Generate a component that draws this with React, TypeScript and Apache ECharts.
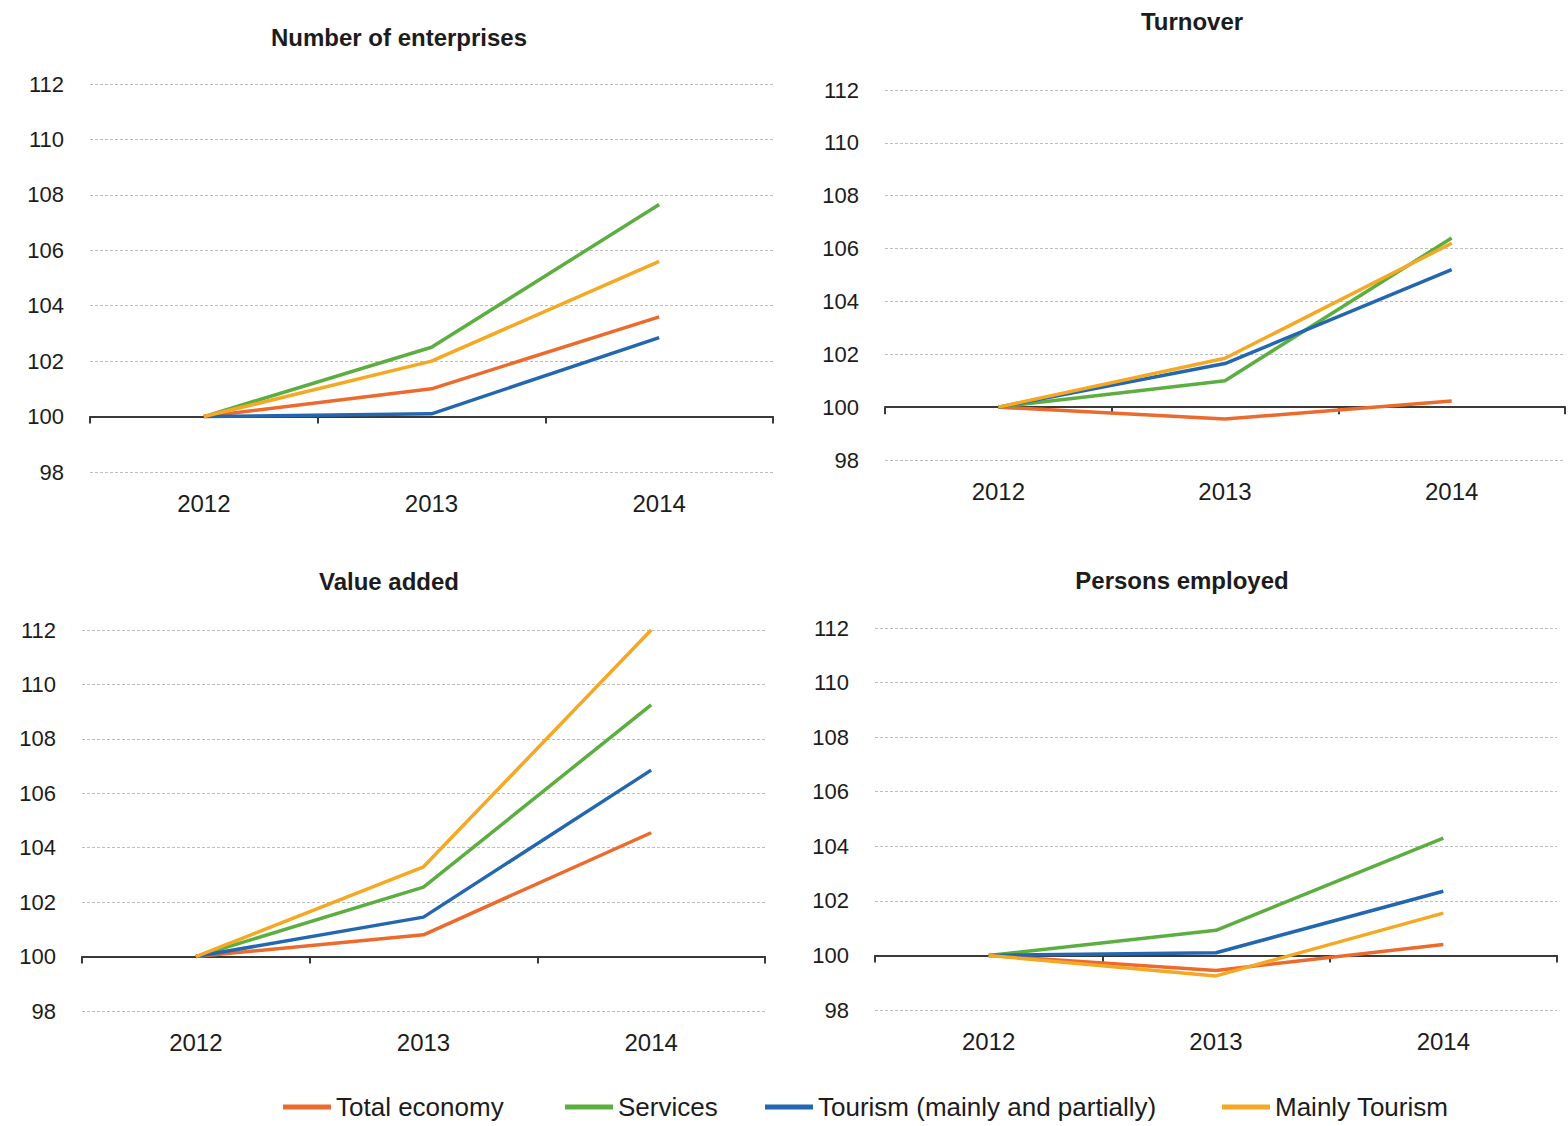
import React, { useEffect, useRef } from 'react';
import * as echarts from 'echarts';

const years = ['2012', '2013', '2014'];
const seriesNames = ['Total economy', 'Services', 'Tourism (mainly and partially)', 'Mainly Tourism'];
const seriesColors = ['#EC6A2C', '#5BAE3F', '#2467B1', '#F5A823'];
const panelTitles = ['Number of enterprises', 'Turnover', 'Value added', 'Persons employed'];
const yMin = 98;
const yMax = 112;
const yStep = 2;
const BASE = 100;

// Number of enterprises
const enterprisesTotal = [100, 101.0, 103.6];
const enterprisesServices = [100, 102.5, 107.65];
const enterprisesTourism = [100, 100.1, 102.85];
const enterprisesMainly = [100, 102.0, 105.6];

// Turnover
const turnoverTotal = [100, 99.55, 100.23];
const turnoverServices = [100, 101.0, 106.4];
const turnoverTourism = [100, 101.65, 105.2];
const turnoverMainly = [100, 101.85, 106.2];

// Value added
const valueTotal = [100, 100.8, 104.55];
const valueServices = [100, 102.55, 109.25];
const valueTourism = [100, 101.45, 106.85];
const valueMainly = [100, 103.3, 112.0];

// Persons employed
const employedTotal = [100, 99.45, 100.4];
const employedServices = [100, 100.92, 104.3];
const employedTourism = [100, 100.1, 102.35];
const employedMainly = [100, 99.25, 101.55];

const panelData = [
  [enterprisesTotal, enterprisesServices, enterprisesTourism, enterprisesMainly],
  [turnoverTotal, turnoverServices, turnoverTourism, turnoverMainly],
  [valueTotal, valueServices, valueTourism, valueMainly],
  [employedTotal, employedServices, employedTourism, employedMainly],
];

const gridBoxes = [
  { left: 90, top: 84, width: 683, height: 388 },
  { left: 885, top: 90, width: 680, height: 370 },
  { left: 82, top: 630, width: 683, height: 381 },
  { left: 875, top: 628, width: 682, height: 382 },
];
const titleBoxes = [
  { x: 394, y: 20 },
  { x: 1187, y: 4 },
  { x: 384, y: 564 },
  { x: 1177, y: 563 },
];
const legendLefts = [283, 565, 765, 1222];

const FONT = "'Liberation Sans', Arial, sans-serif";
const TEXT = '#1c1c1c';

export default function App() {
  const ref = useRef<HTMLDivElement>(null);

  useEffect(() => {
    document.body.style.margin = '0';
    if (!ref.current) return;
    const chart = echarts.init(ref.current, undefined, { renderer: 'svg' });

    const xAxes: any[] = [];
    const yAxes: any[] = [];
    const series: any[] = [];

    panelData.forEach((panel, gi) => {
      // axis line at 100 with ticks
      xAxes.push({
        type: 'category',
        gridIndex: gi,
        data: years,
        position: 'bottom',
        boundaryGap: true,
        axisLine: { show: true, onZero: true, lineStyle: { color: '#3a3a3a', width: 2 } },
        axisTick: { show: true, length: 7, lineStyle: { color: '#3a3a3a', width: 2 } },
        axisLabel: { show: false },
        splitLine: { show: false },
      });
      // labels at bottom
      xAxes.push({
        type: 'category',
        gridIndex: gi,
        data: years,
        position: 'bottom',
        boundaryGap: true,
        axisLine: { show: false, onZero: false },
        axisTick: { show: false },
        axisLabel: { show: true, margin: 19, fontSize: 24, color: TEXT, fontFamily: FONT },
        splitLine: { show: false },
      });
      yAxes.push({
        type: 'value',
        gridIndex: gi,
        min: yMin - BASE,
        max: yMax - BASE,
        interval: yStep,
        axisLine: { show: false },
        axisTick: { show: false },
        axisLabel: {
          margin: 26,
          fontSize: 22,
          color: TEXT,
          fontFamily: FONT,
          formatter: (v: number) => String(Math.round(v + BASE)),
        },
        splitLine: { show: true, lineStyle: { color: '#bdbdbd', type: [3, 2], width: 1 } },
      });
      panel.forEach((vals, si) => {
        series.push({
          type: 'line',
          name: seriesNames[si],
          xAxisIndex: gi * 2,
          yAxisIndex: gi,
          data: vals.map((v) => +(v - BASE).toFixed(4)),
          symbol: 'none',
          lineStyle: { width: 3.5, color: seriesColors[si] },
          itemStyle: { color: seriesColors[si] },
          z: 3,
        });
      });
    });

    const option: any = {
      animation: false,
      backgroundColor: '#ffffff',
      title: panelTitles.map((t, i) => ({
        text: t,
        left: titleBoxes[i].x,
        top: titleBoxes[i].y,
        textAlign: 'center',
        textStyle: { fontSize: 24, fontWeight: 'bold', color: TEXT, fontFamily: FONT },
      })),
      grid: gridBoxes.map((g) => ({ ...g, containLabel: false })),
      xAxis: xAxes,
      yAxis: yAxes,
      legend: seriesNames.map((n, i) => ({
        data: [n],
        left: legendLefts[i],
        top: 1094,
        icon: 'rect',
        itemWidth: 48,
        itemHeight: 5,
        itemGap: 0,
        padding: 0,
        textStyle: { fontSize: 26, color: TEXT, fontFamily: FONT },
        selectedMode: false,
      })),
      series,
    };
    chart.setOption(option);
    return () => chart.dispose();
  }, []);

  return <div ref={ref} style={{ width: 1568, height: 1126 }} />;
}
